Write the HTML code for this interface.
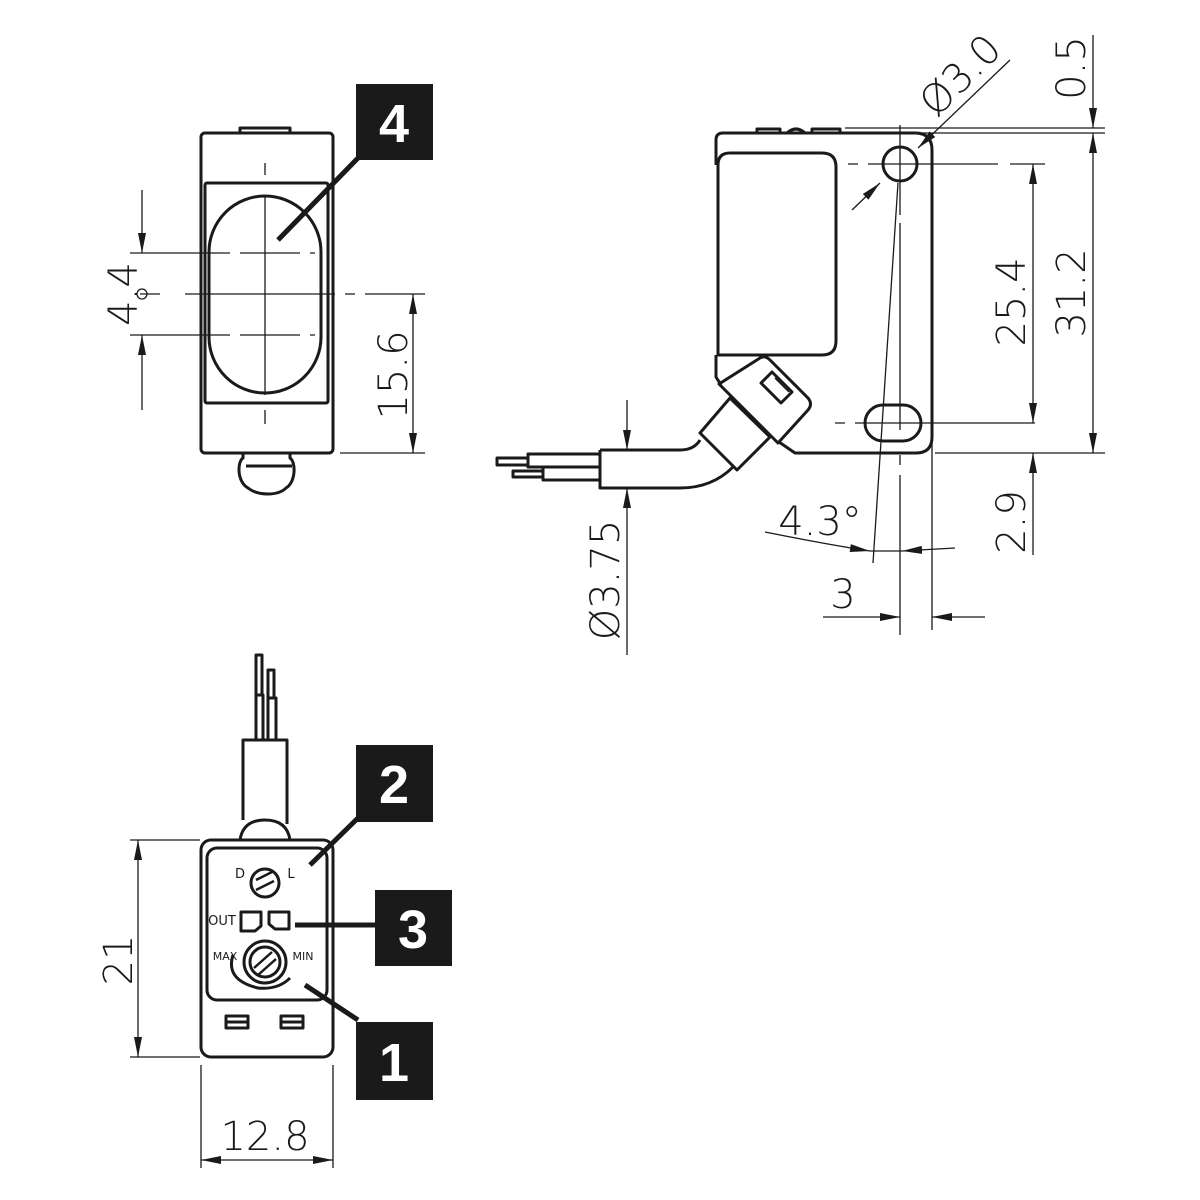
<!DOCTYPE html>
<html><head><meta charset="utf-8"><style>
html,body{margin:0;padding:0;background:#fff}
svg{display:block}
text{font-family:"DejaVu Sans","Liberation Sans",sans-serif;fill:#1a1a1a}
.d{font-size:40px;font-weight:200}
.b{font-family:"Liberation Sans",sans-serif;font-weight:bold;font-size:54px;fill:#fff}
.s{font-size:13px}
</style></head><body>
<svg width="1200" height="1200" viewBox="0 0 1200 1200" xmlns="http://www.w3.org/2000/svg">
<defs>
<marker id="a" viewBox="0 0 20 8" refX="20" refY="4" markerWidth="20" markerHeight="8" markerUnits="userSpaceOnUse" orient="auto"><path d="M0,0L20,4L0,8z" fill="#1a1a1a"/></marker>
</defs>
<g fill="none" stroke="#1a1a1a" stroke-linejoin="round">
<!-- TOP LEFT VIEW -->
<g stroke-width="3">
<rect x="201" y="133" width="132" height="320" rx="4"/>
<path d="M240,133V128H290V133"/>
<rect x="205" y="183" width="123" height="220" rx="2"/>
<rect x="209" y="196" width="112" height="197" rx="56"/>
<path d="M243,453v5c-6,4 -6,24 5,30c10,8 30,8 38,0c10,-6 10,-26 4,-30v-5"/>
<path d="M246,466h46"/>
</g>
<g stroke-width="1.3">
<path d="M265,163v12M265,195v200M265,410v14"/>
<path d="M130,253H230M240,253h60M310,253h5"/>
<path d="M130,335H230M240,335h60M310,335h5"/>
<path d="M140,294h20M185,294h150M345,294h10M365,294h60"/>
<path d="M142,190V253" marker-end="url(#a)"/>
<path d="M142,410V335" marker-end="url(#a)"/>
<circle cx="142" cy="294" r="5"/>
<path d="M413,374V294" marker-end="url(#a)"/>
<path d="M413,374V453" marker-end="url(#a)"/>
<path d="M340,453H425"/>
</g>
<path d="M278,240L358,158" stroke-width="5"/>

<!-- RIGHT VIEW -->
<g stroke-width="3">
<path d="M716,140q0,-7 7,-7H915q17,0 17,17V437q0,16 -16,16H795l-16,-11"/>
<path d="M718,165q0,-12 12,-12H822q14,0 14,14V341q0,14 -14,14H718V165"/>
<path d="M716,140V165M716,355V377l5,8"/>
<path d="M757,133v-4h23v4M787,133q9,-8 18,0M812,133v-4h28v4"/>
<circle cx="900" cy="164" r="17"/>
<rect x="865" y="405" width="56" height="36" rx="18"/>
<!-- connector -->
<path d="M700,433L730,398L770,437L737,470Z"/>
<path d="M719,384L760,358Q765,355 770,360L808,398Q813,404 808,410L778,443Z"/>
<path d="M772,372l20,20l-11,11l-20,-20z"/>
<path d="M775,378l14,14" stroke-width="1.5"/>
<!-- cable -->
<path d="M600,450V488H680q32,0 53,-21"/>
<path d="M600,450H680q14,0 20,-10"/>
<path d="M600,454H528v13h72M600,467H543v13h57"/>
<path d="M528,458h-31v7h31M543,471h-30v6h30"/>
</g>
<g stroke-width="1.3">
<path d="M848,164h10M868,164h130M1010,164h35"/>
<path d="M835,423h10M855,423h180"/>
<path d="M900,125v90"/>
<path d="M900,223V430M900,455v10M900,475v160"/>
<path d="M898,183L873,563"/>
<path d="M932,440V630"/>
<path d="M852,210L880,183" marker-end="url(#a)"/>
<path d="M1010,60L918,148" marker-end="url(#a)"/>
<path d="M845,128H1105M845,133H1105M935,453H1105"/>
<path d="M1093,35V128" marker-end="url(#a)"/>
<path d="M1093,180V133" marker-end="url(#a)"/>
<path d="M1093,180V453" marker-end="url(#a)"/>
<path d="M1033,300V164" marker-end="url(#a)"/>
<path d="M1033,300V423" marker-end="url(#a)"/>
<path d="M1033,555V453" marker-end="url(#a)"/>
<path d="M627,400V450" marker-end="url(#a)"/>
<path d="M627,655V488" marker-end="url(#a)"/>
<path d="M765,532Q830,545 870,551" marker-end="url(#a)"/>
<path d="M955,548L902,551" marker-end="url(#a)"/>
<path d="M870,551h32"/>
<path d="M823,617H900" marker-end="url(#a)"/>
<path d="M985,617H932" marker-end="url(#a)"/>
</g>

<!-- BOTTOM VIEW -->
<g stroke-width="3">
<rect x="201" y="840" width="132" height="217" rx="10"/>
<rect x="207" y="848" width="120" height="152" rx="10"/>
<path d="M240,840q3,-20 25,-20t25,20"/>
<path d="M243,820V740H287V824"/>
<path d="M256,740V695h7v45M268,740V698h8v42"/>
<path d="M256,695V655h6v40M268,698V670h6v28"/>
<circle cx="265" cy="883" r="14"/>
<circle cx="265" cy="962" r="21"/>
<circle cx="265" cy="962" r="15"/>
<path d="M233,955q-8,25 25,33q20,2 32,-10"/>
<rect x="226" y="1016" width="22" height="12"/><path d="M226,1022h22"/>
<rect x="281" y="1016" width="22" height="12"/><path d="M281,1022h22"/>
<path d="M241,912h20v14l-6,5h-14z"/>
<path d="M269,912h20v17h-14l-6,-5z"/>
</g>
<g stroke-width="2.5">
<path d="M256,880l16,-8M256,890l18,-9"/>
<path d="M254,968l18,-16M258,975l18,-16"/>
</g>
<path d="M310,865L358,818M295,925H377M305,985L358,1020" stroke-width="5"/>
<g stroke-width="1.3">
<path d="M130,840H200M130,1057H200"/>
<path d="M138,950V840" marker-end="url(#a)"/>
<path d="M138,950V1057" marker-end="url(#a)"/>
<path d="M201,1065V1168M333,1065V1168"/>
<path d="M265,1160H201" marker-end="url(#a)"/>
<path d="M265,1160H333" marker-end="url(#a)"/>
</g>
</g>

<rect x="356" y="84" width="77" height="76" fill="#1a1a1a"/>
<text class="b" x="394" y="142" text-anchor="middle">4</text>
<rect x="356" y="745" width="77" height="77" fill="#1a1a1a"/>
<text class="b" x="394" y="803" text-anchor="middle">2</text>
<rect x="375" y="890" width="77" height="76" fill="#1a1a1a"/>
<text class="b" x="413" y="948" text-anchor="middle">3</text>
<rect x="356" y="1022" width="77" height="78" fill="#1a1a1a"/>
<text class="b" x="394" y="1081" text-anchor="middle">1</text>

<text class="s" x="240" y="878" text-anchor="middle">D</text>
<text class="s" x="291" y="878" text-anchor="middle">L</text>
<text class="s" x="222" y="925" text-anchor="middle">OUT</text>
<text class="s" x="225" y="960" text-anchor="middle" style="font-size:11px">MAX</text>
<text class="s" x="303" y="960" text-anchor="middle" style="font-size:11px">MIN</text>

<text class="d" transform="translate(137,294) rotate(-90)" text-anchor="middle">4.4</text>
<text class="d" transform="translate(407,375) rotate(-90)" text-anchor="middle">15.6</text>
<text class="d" transform="translate(1025,302) rotate(-90)" text-anchor="middle">25.4</text>
<text class="d" transform="translate(1085,293) rotate(-90)" text-anchor="middle">31.2</text>
<text class="d" transform="translate(1085,68) rotate(-90)" text-anchor="middle">0.5</text>
<text class="d" transform="translate(1025,522) rotate(-90)" text-anchor="middle">2.9</text>
<text class="d" transform="translate(619,580) rotate(-90)" text-anchor="middle">Ø3.75</text>
<text class="d" transform="translate(970,85) rotate(-45)" text-anchor="middle">Ø3.0</text>
<text class="d" x="820" y="535" text-anchor="middle">4.3°</text>
<text class="d" x="843" y="608" text-anchor="middle">3</text>
<text class="d" transform="translate(132,960) rotate(-90)" text-anchor="middle">21</text>
<text class="d" x="265" y="1150" text-anchor="middle">12.8</text>
</svg>
</body></html>
